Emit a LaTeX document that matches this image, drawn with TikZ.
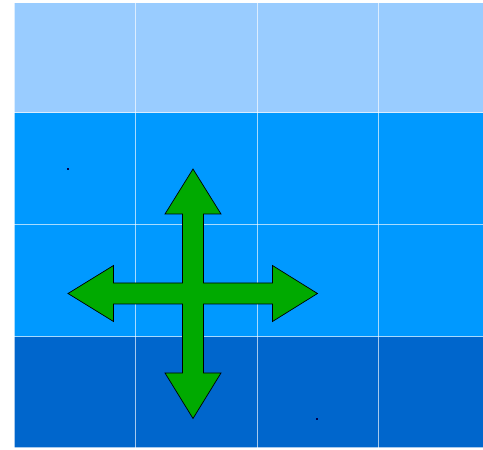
\documentclass[tikz,border=0pt]{standalone}
\usetikzlibrary{calc}
\begin{document}
\begin{tikzpicture}[x=1pt,y=1pt,
  gridline/.style={draw=white,draw opacity=0.65,line width=1pt},
  crossarrow/.style={fill=arrowgreen,draw=black,line width=0.7pt,line join=miter},
  speck/.style={fill=black!70!blue,draw=none}]
\definecolor{toprow}{HTML}{99CCFF}
\definecolor{midrow}{HTML}{0099FF}
\definecolor{botrow}{HTML}{0066CC}
\definecolor{arrowgreen}{HTML}{00AA00}
\useasboundingbox (0,0) rectangle (483,450);
\begin{scope}
\clip (0,0) rectangle (483,450);
% rows
\fill[toprow] (14,337) rectangle (500,447);
\fill[midrow] (14,225) rectangle (500,337);
\fill[midrow] (14,113) rectangle (500,225);
\fill[botrow] (14,2) rectangle (500,113);
% grid lines
\foreach \x in {14,135.5,257,378.5,500} \draw[gridline] (\x,2) -- (\x,447);
\foreach \y in {2,113,225,337,447} \draw[gridline] (14,\y) -- (500,\y);
\end{scope}
% specks
\fill[speck] (67.4,280.4) rectangle (68.6,281.6);
\fill[speck] (316.4,30.4) rectangle (317.6,31.6);
% cross arrow, centre (193,156.5)
\coordinate (c) at (193,156.5);
\draw[crossarrow]
  ($(c)+(-10.5,10.5)$) -- ($(c)+(-10.5,79.5)$) -- ($(c)+(-28,79.5)$) -- ($(c)+(0,124.5)$)
  -- ($(c)+(28,79.5)$) -- ($(c)+(10.5,79.5)$) -- ($(c)+(10.5,10.5)$)
  -- ($(c)+(79.5,10.5)$) -- ($(c)+(79.5,28)$) -- ($(c)+(124.5,0)$)
  -- ($(c)+(79.5,-28)$) -- ($(c)+(79.5,-10.5)$) -- ($(c)+(10.5,-10.5)$)
  -- ($(c)+(10.5,-79.5)$) -- ($(c)+(28,-79.5)$) -- ($(c)+(0,-125)$)
  -- ($(c)+(-28,-79.5)$) -- ($(c)+(-10.5,-79.5)$) -- ($(c)+(-10.5,-10.5)$)
  -- ($(c)+(-79.5,-10.5)$) -- ($(c)+(-79.5,-28)$) -- ($(c)+(-125,0)$)
  -- ($(c)+(-79.5,28)$) -- ($(c)+(-79.5,10.5)$) -- cycle;
\end{tikzpicture}
\end{document}
